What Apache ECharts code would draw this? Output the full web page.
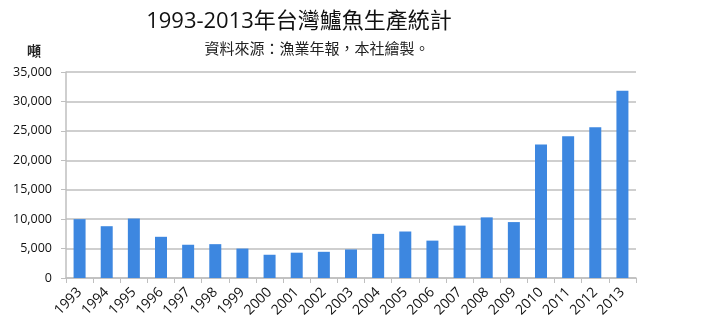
<!DOCTYPE html>
<html><head><meta charset="utf-8">
<script src="https://cdn.jsdelivr.net/npm/echarts@6/dist/echarts.min.js"></script>
<style>html,body{margin:0;padding:0;background:#fff}#c{width:720px;height:331px}</style>
</head><body><div id="c"></div>
<script>
const years = ['1993','1994','1995','1996','1997','1998','1999','2000','2001','2002','2003','2004','2005','2006','2007','2008','2009','2010','2011','2012','2013'];
const production = [10000,8800,10100,7000,5650,5750,5000,3950,4300,4450,4850,7500,7900,6350,8900,10300,9500,22700,24100,25600,31800];
const titleText = '1993-2013年台灣鱸魚生產統計';
const subtitleText = '資料來源：漁業年報，本社繪製。';
const unitText = '噸';

const chart = echarts.init(document.getElementById('c'));
const F = '"Open Sans","Noto Sans CJK TC",sans-serif';
chart.setOption({
  animation:false,
  textStyle:{fontFamily:F},
  title:[
    {text:titleText, left:294, top:6, textAlign:'center', textStyle:{fontSize:22, fontWeight:'normal', color:'#111', fontFamily:F}},
    {text:subtitleText, left:312, top:37, textAlign:'center', textStyle:{fontSize:15, fontWeight:'normal', color:'#222', fontFamily:F}},
    {text:unitText, left:22, top:40, textStyle:{fontSize:14, fontWeight:'bold', color:'#222', fontFamily:F}}
  ],
  grid:{left:66, right:84, top:72, bottom:53},
  xAxis:{type:'category', data:years, boundaryGap:true,
    axisLine:{lineStyle:{color:'#bfbfbf', width:1.5}},
    axisTick:{show:true, alignWithLabel:false, length:5, lineStyle:{color:'#bfbfbf'}},
    axisLabel:{rotate:45, interval:0, fontSize:14, color:'#111', margin:12, fontFamily:F}
  },
  yAxis:{type:'value', min:0, max:35000, interval:5000,
    axisLine:{show:true, lineStyle:{color:'#bfbfbf', width:1.5}},
    axisTick:{show:true, length:5, lineStyle:{color:'#bfbfbf'}},
    splitLine:{lineStyle:{color:'#bfbfbf', width:1.5}},
    axisLabel:{fontSize:12.5, color:'#111', margin:14, fontFamily:F,
      formatter:v=>v.toLocaleString('en-US')}
  },
  series:[{type:'bar', data:production, barWidth:12,
    itemStyle:{color:'#3d87e0'}}]
});
</script></body></html>
